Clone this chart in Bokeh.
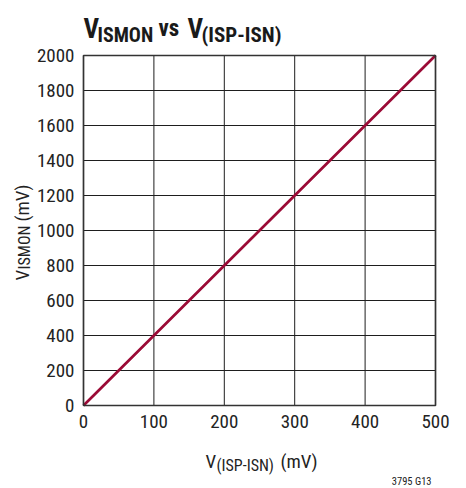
import math
from bokeh.plotting import figure
from bokeh.models import Label, Range1d
from bokeh.core.properties import value
from bokeh.embed import file_html
from bokeh.resources import INLINE

# ---- data ----
v_isp_isn = [0, 100, 200, 300, 400, 500]          # mV
v_ismon = [0, 400, 800, 1200, 1600, 2000]          # mV
x_ticks = [0, 100, 200, 300, 400, 500]
x_tick_labels = ["0", "100", "200", "300", "400", "500"]
y_ticks = [0, 200, 400, 600, 800, 1000, 1200, 1400, 1600, 1800, 2000]
y_tick_labels = ["0", "200", "400", "600", "800", "1000", "1200", "1400", "1600", "1800", "2000"]
X_MIN, X_MAX, Y_MIN, Y_MAX = 0, 500, 0, 2000

# ---- layout (page pixels) ----
W, H = 466, 488
FL, FT, FR, FB = 83, 55, 435, 405     # plot area edges on the page
sx = (FR - FL) / (X_MAX - X_MIN)
sy = (FB - FT) / (Y_MAX - Y_MIN)

COND = "'Roboto Condensed', Roboto"
TXT = "#232323"

p = figure(width=W, height=H, output_backend="svg", toolbar_location=None,
           x_range=Range1d(X_MIN - FL / sx, X_MAX + (W - FR) / sx),
           y_range=Range1d(Y_MIN - (H - FB) / sy, Y_MAX + FT / sy),
           min_border=0, min_border_left=0, min_border_right=0,
           min_border_top=0, min_border_bottom=0)
p.title = None
p.axis.visible = False
p.grid.visible = False
p.outline_line_color = None
p.background_fill_color = "white"
p.border_fill_color = "white"

# grid lines from the tick arrays
inner_x = [t for t in x_ticks if X_MIN < t < X_MAX]
inner_y = [t for t in y_ticks if Y_MIN < t < Y_MAX]
p.segment(x0=inner_x, y0=[Y_MIN] * len(inner_x), x1=inner_x, y1=[Y_MAX] * len(inner_x),
          line_color="#1e1e1e", line_width=1)
p.segment(x0=[X_MIN] * len(inner_y), y0=inner_y, x1=[X_MAX] * len(inner_y), y1=inner_y,
          line_color="#1e1e1e", line_width=1)

# data line
p.line(v_isp_isn, v_ismon, line_color="#9b0b36", line_width=2.7)

# plot frame
p.quad(left=[X_MIN], right=[X_MAX], bottom=[Y_MIN], top=[Y_MAX],
       fill_color=None, line_color="#333333", line_width=1.7)

# tick labels
p.text(x=x_ticks, y=[Y_MIN] * len(x_ticks), text=x_tick_labels, y_offset=9,
       text_align="center", text_baseline="top", text_font=value(COND),
       text_font_size="19px", text_color=TXT)
p.text(x=[X_MIN] * len(y_ticks), y=y_ticks, text=y_tick_labels, x_offset=-9,
       text_align="right", text_baseline="middle", text_font=value(COND),
       text_font_size="19px", text_color=TXT)


def lab(text, px, py, size, font=COND, bold=False, angle=0, align="left", color="#1a1a1a"):
    # (px, py): page position of the text's anchor (top-left origin)
    p.add_layout(Label(x=px, y=H - py, x_units="screen", y_units="screen", text=text,
                       text_font=font, text_font_size=size,
                       text_font_style="bold" if bold else "normal",
                       text_color=color, text_align=align, text_baseline="alphabetic",
                       angle=angle))


# title
lab("V", 83, 28, "27px", bold=True)
lab("ISMON", 97, 34, "20px", bold=True)
lab("vs", 158, 28, "23px", bold=True)
lab("V", 187, 28, "27px", bold=True)
lab("(ISP-ISN)", 201, 34, "21px", bold=True)

# x axis label
lab("V", 205, 461, "19px", color=TXT)
lab("(ISP-ISN)", 216, 465, "16px", color=TXT)
lab("(mV)", 280, 461, "19px", color=TXT)

# y axis label (rotated)
lab("V", 22, 280, "19px", angle=math.pi / 2, color=TXT)
lab("ISMON", 24, 269, "16px", angle=math.pi / 2, color=TXT)
lab("(mV)", 22, 221, "19px", angle=math.pi / 2, color=TXT)

# footnote
lab("3795 G13", 431, 481, "10.5px", color=TXT, align="right")

open("out.html", "w").write(file_html(p, INLINE))
